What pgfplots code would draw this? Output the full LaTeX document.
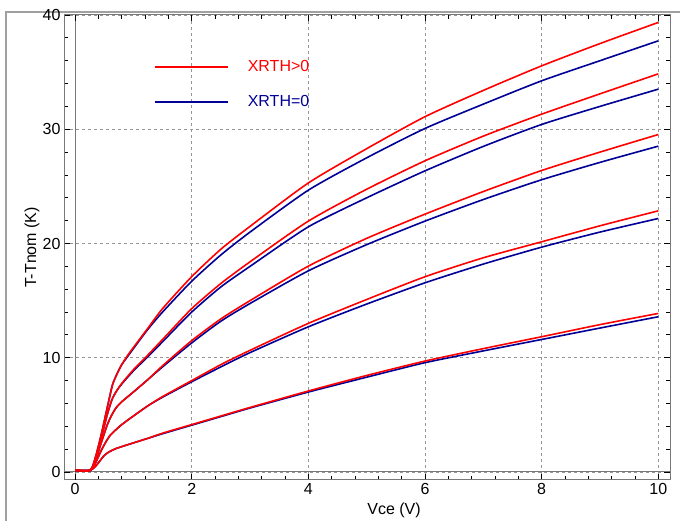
\documentclass[border=0pt]{standalone}
\usepackage{pgfplots}
\pgfplotsset{compat=1.18}
\usepackage{fontspec}
\setmainfont{Liberation Sans}
\definecolor{cred}{RGB}{255,0,0}
\definecolor{cblue}{RGB}{0,0,150}
\definecolor{gridgray}{RGB}{150,150,150}
\definecolor{axgray}{RGB}{120,120,120}
\definecolor{framegray}{RGB}{160,160,160}

\begin{document}
\begin{tikzpicture}[x=1pt,y=1pt]
\useasboundingbox (0,0) rectangle (680,521);
\draw[framegray, line width=1.5pt] (6,0) -- (6,509) -- (680,509);
\begin{axis}[
 at={(64pt,41pt)}, anchor=south west,
 width=606pt, height=465pt, scale only axis,
 xmin=-0.19, xmax=10.2, ymin=-0.7, ymax=40,
 xtick={0,2,...,10}, ytick={0,10,...,40},
 minor x tick num=4, minor y tick num=4,
 tick align=inside,
 major tick length=6pt, minor tick length=4pt,
 grid=major, major grid style={dashed, gridgray, line width=0.8pt},
 axis line style={axgray, line width=1pt},
 tick style={black, line width=0.8pt},
 extra x ticks={0}, extra x tick labels={},
 extra y ticks={0}, extra y tick labels={},
 extra tick style={grid=major, major grid style={solid, axgray, line width=1pt}},
 xlabel={Vce (V)}, ylabel={T-Tnom (K)},
 x label style={at={(axis description cs:0.5446,-0.066)}, anchor=center},
 y label style={at={(axis description cs:-0.0528,0.5)}, anchor=center},
 label style={font=\fontsize{16}{18}\selectfont},
 tick label style={font=\fontsize{16}{18}\selectfont},
 /pgf/number format/assume math mode=true,
 legend style={at={(axis description cs:0.1485,0.902)}, anchor=north west,
   draw=none, fill=none, inner sep=0pt, column sep=19pt, row sep=22pt,
   nodes={inner sep=0pt}, font=\fontsize{16}{18}\selectfont},
 legend cell align=left, reverse legend,
 legend image code/.code={\draw[#1, sharp plot] (0pt,0pt) -- (73pt,0pt);},
 every axis plot/.append style={smooth, tension=0.4, line width=1.6pt},
]
% ---- blue (XRTH=0) ----
\addplot[cblue] coordinates {(0,0.15) (0.26,0.15) (0.35,1.3) (0.45,3.3) (0.55,5.6) (0.64,7.6) (0.72,8.6) (0.8,9.4) (0.9,10.1) (1.0,10.8) (1.25,12.5) (1.5,14.0) (2,16.7) (2.5,19.0) (3,21.0) (4,24.67) (5,27.5) (6,30.07) (7,32.2) (8,34.24) (9,36.0) (10,37.74)};
\addplot[cblue, forget plot] coordinates {(0,0.15) (0.26,0.15) (0.35,1.2) (0.45,3.0) (0.55,5.0) (0.63,6.3) (0.7,7.0) (0.8,7.7) (1.0,8.85) (1.25,10.1) (1.5,11.4) (2,14.0) (2.5,16.2) (3,18.0) (4,21.46) (5,24.0) (6,26.36) (7,28.5) (8,30.42) (9,32.0) (10,33.51)};
\addplot[cblue, forget plot] coordinates {(0,0.15) (0.26,0.15) (0.35,1.0) (0.45,2.6) (0.55,4.1) (0.62,4.9) (0.7,5.6) (0.8,6.15) (1.0,7.0) (1.25,8.1) (1.5,9.2) (2,11.3) (2.5,13.2) (3,14.75) (4,17.61) (5,19.9) (6,21.96) (7,23.85) (8,25.58) (9,27.1) (10,28.52)};
\addplot[cblue, forget plot] coordinates {(0,0.15) (0.26,0.15) (0.35,0.8) (0.45,1.9) (0.53,2.65) (0.6,3.2) (0.7,3.7) (0.8,4.15) (1.0,4.9) (1.25,5.8) (1.5,6.55) (2,7.9) (2.5,9.2) (3,10.45) (4,12.71) (5,14.7) (6,16.56) (7,18.2) (8,19.68) (9,21.0) (10,22.19)};
\addplot[cblue, forget plot] coordinates {(0,0.15) (0.26,0.15) (0.35,0.5) (0.43,1.0) (0.5,1.45) (0.58,1.75) (0.7,2.05) (0.94,2.45) (1.25,2.95) (1.5,3.35) (2,4.1) (2.5,4.85) (3,5.6) (4,7.0) (5,8.3) (6,9.57) (7,10.6) (8,11.6) (9,12.6) (10,13.59)};
% ---- red (XRTH>0) ----
\addplot[cred] coordinates {(0,0.15) (0.26,0.15) (0.35,1.3) (0.45,3.3) (0.55,5.6) (0.64,7.6) (0.72,8.6) (0.8,9.4) (0.9,10.2) (1.0,10.9) (1.25,12.6) (1.5,14.3) (2,17.1) (2.5,19.5) (3,21.5) (4,25.3) (5,28.3) (6,31.1) (7,33.4) (8,35.55) (9,37.5) (10,39.35)};
\addplot[cred, forget plot] coordinates {(0,0.15) (0.26,0.15) (0.35,1.2) (0.45,3.0) (0.55,5.0) (0.63,6.3) (0.7,7.0) (0.8,7.75) (1.0,8.95) (1.25,10.25) (1.5,11.6) (2,14.3) (2.5,16.5) (3,18.4) (4,21.96) (5,24.75) (6,27.24) (7,29.4) (8,31.32) (9,33.1) (10,34.85)};
\addplot[cred, forget plot] coordinates {(0,0.15) (0.26,0.15) (0.35,1.0) (0.45,2.6) (0.55,4.1) (0.62,4.9) (0.7,5.6) (0.8,6.15) (1.0,7.0) (1.25,8.1) (1.5,9.3) (2,11.5) (2.5,13.4) (3,15.0) (4,18.02) (5,20.45) (6,22.57) (7,24.55) (8,26.39) (9,28.0) (10,29.54)};
\addplot[cred, forget plot] coordinates {(0,0.15) (0.26,0.15) (0.35,0.8) (0.45,1.9) (0.53,2.65) (0.6,3.2) (0.7,3.7) (0.8,4.15) (1.0,4.9) (1.25,5.8) (1.5,6.6) (2,8.0) (2.5,9.4) (3,10.65) (4,13.01) (5,15.1) (6,17.09) (7,18.75) (8,20.15) (9,21.55) (10,22.86)};
\addplot[cred, forget plot] coordinates {(0,0.15) (0.26,0.15) (0.35,0.5) (0.43,1.0) (0.5,1.45) (0.58,1.75) (0.7,2.05) (0.94,2.45) (1.25,2.95) (1.5,3.4) (2,4.15) (2.5,4.9) (3,5.65) (4,7.09) (5,8.45) (6,9.71) (7,10.8) (8,11.84) (9,12.9) (10,13.88)};
\legend{\textcolor{cblue}{XRTH=0},\textcolor{cred}{XRTH>0}}
\end{axis}
\end{tikzpicture}
\end{document}
